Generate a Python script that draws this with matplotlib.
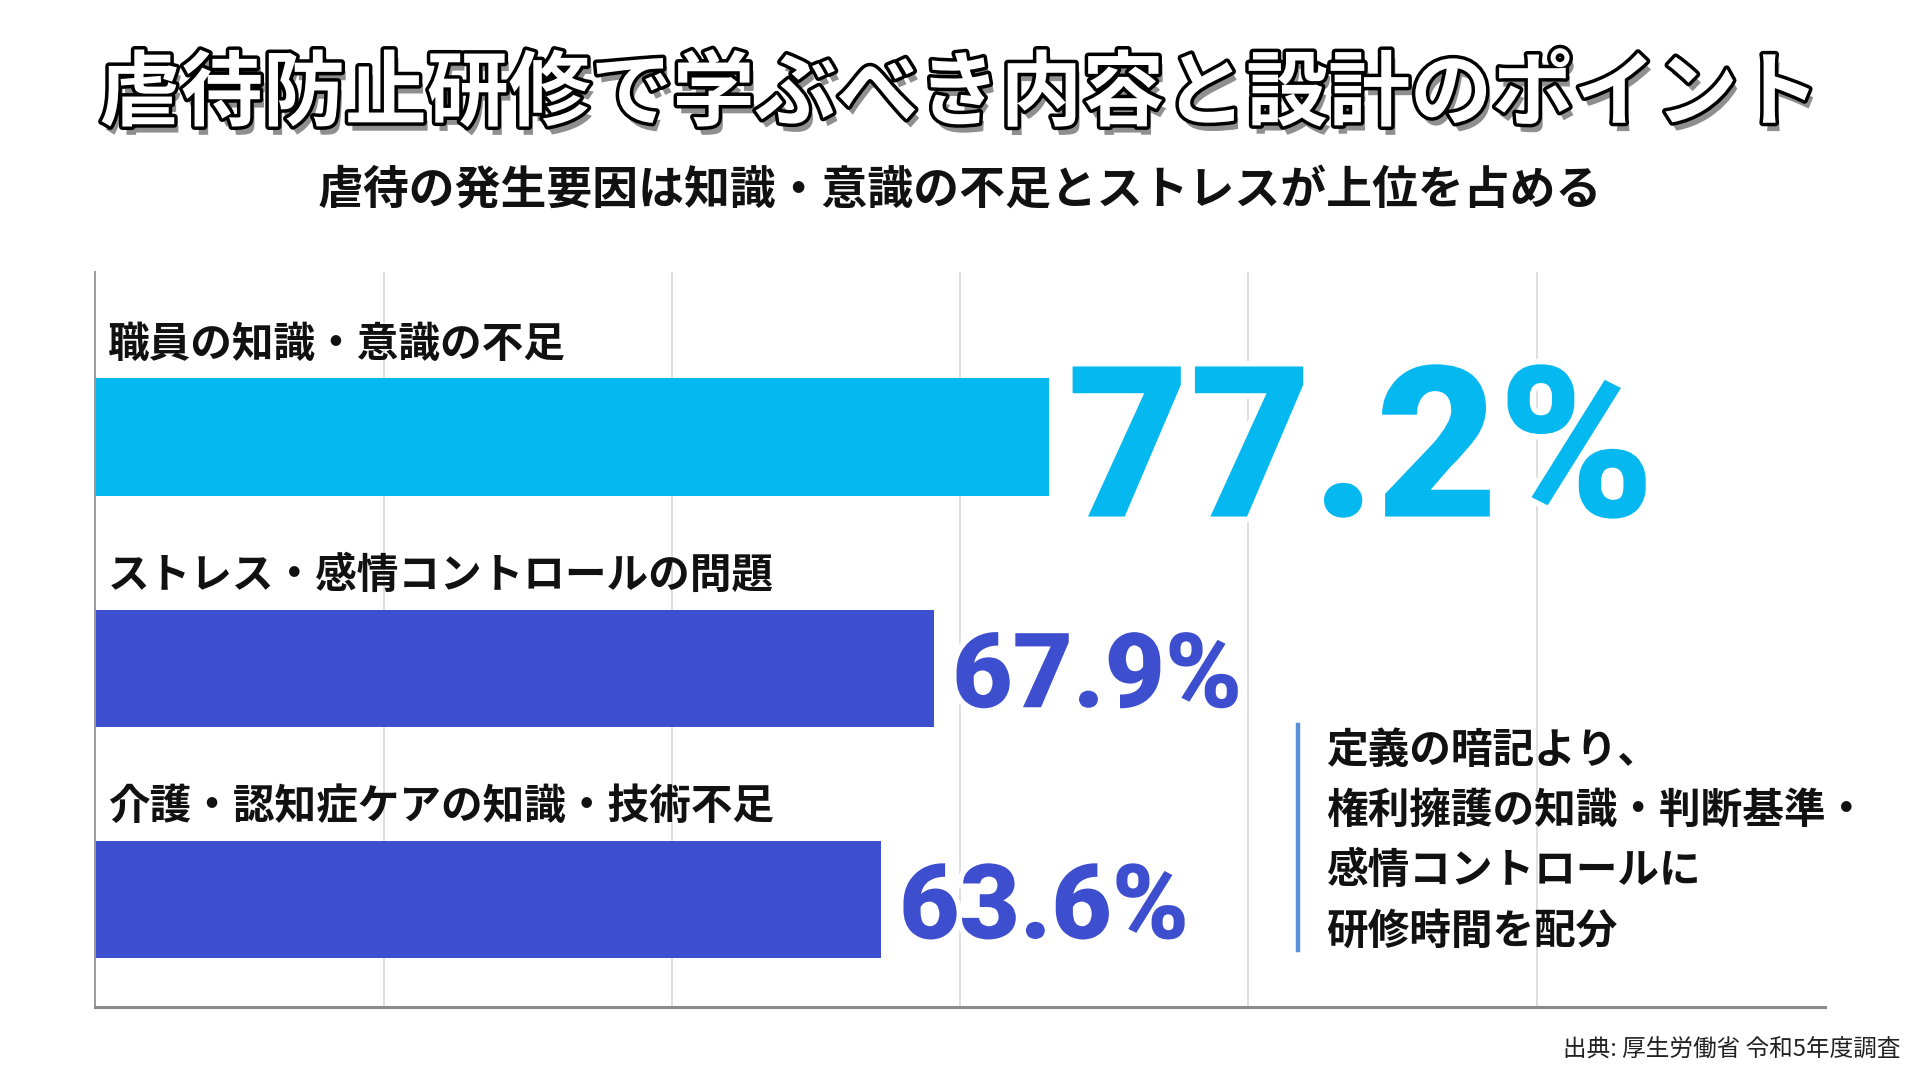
import matplotlib
matplotlib.use("Agg")
import matplotlib.pyplot as plt
import matplotlib.patheffects as pe
import numpy as np

plt.rcParams['font.family'] = ['Noto Sans CJK JP', 'DejaVu Sans']

# ---- data ----
categories = ["職員の知識・意識の不足",
              "ストレス・感情コントロールの問題",
              "介護・認知症ケアの知識・技術不足"]
values = [77.2, 67.9, 63.6]
bar_colors = ["#06B8F0", "#3D4ECF", "#3D4ECF"]
value_sizes = [152, 75, 75]

title = "虐待防止研修で学ぶべき内容と設計のポイント"
subtitle = "虐待の発生要因は知識・意識の不足とストレスが上位を占める"
note_lines = ["定義の暗記より、",
              "権利擁護の知識・判断基準・",
              "感情コントロールに",
              "研修時間を配分"]
source = "出典: 厚生労働省 令和5年度調査"

x_max = 140

fig = plt.figure(figsize=(19.2, 10.72), dpi=100)
fig.patch.set_facecolor("white")
ax = fig.add_axes([0.0497, 0.0611, 0.9008, 0.6852])

ypos = np.arange(len(categories))
ax.barh(ypos, values, height=0.508, color=bar_colors, zorder=2)

ax.set_xlim(0, x_max)
ax.set_ylim(2.463, -0.714)
ax.set_xticks(np.linspace(0, x_max, 7)[1:-1])
ax.set_yticks([])
ax.tick_params(axis='x', length=0, labelbottom=False)
ax.grid(axis='x', color="#D6D6D6", linewidth=1.1, zorder=0)
for s in ['top', 'right']:
    ax.spines[s].set_visible(False)
ax.spines['left'].set_color("#9A9A9A")
ax.spines['left'].set_linewidth(1.4)
ax.spines['bottom'].set_color("#8A8A8A")
ax.spines['bottom'].set_linewidth(2.2)

# category labels above bars
lab_tr = matplotlib.transforms.blended_transform_factory(ax.transAxes, ax.transData)
for i, cat in enumerate(categories):
    ax.text(0.0072, i - 0.40, cat, transform=lab_tr, ha='left', va='center',
            fontsize=30, fontweight='bold', color="#111111", zorder=3)

# value labels
for i, (v, c, fs) in enumerate(zip(values, bar_colors, value_sizes)):
    ax.annotate(f"{v}%", xy=(v, i), xytext=(13, 0), textcoords='offset points',
                ha='left', va='center_baseline', fontsize=fs, fontweight='heavy',
                family=['Roboto', 'DejaVu Sans'], color=c, zorder=4,
                path_effects=[pe.Stroke(linewidth=8, foreground='white'), pe.Normal()])

# title with outline and shadow
fig.text(0.5, 0.911, title, ha='center', va='center', fontsize=59,
         fontweight='bold', color='white',
         path_effects=[pe.SimplePatchShadow(offset=(3, -6), shadow_rgbFace='#333333', alpha=0.55),
                       pe.Stroke(linewidth=5, foreground='black'), pe.Normal()])

fig.text(0.5, 0.821, subtitle, ha='center', va='center', fontsize=33,
         fontweight='bold', color="#111111")

# note with vertical accent line
fig.add_artist(matplotlib.lines.Line2D([0.676, 0.676], [0.1138, 0.3237],
                                       transform=fig.transFigure, color="#5B8FD8", linewidth=3.2))
fig.text(0.6906, 0.319, "\n".join(note_lines), ha='left', va='top', fontsize=30,
         fontweight='bold', color="#111111", linespacing=1.55)

fig.text(0.9896, 0.0215, source, ha='right', va='center', fontsize=17, color="#222222")

fig.savefig("out.png", dpi=100, facecolor="white")
